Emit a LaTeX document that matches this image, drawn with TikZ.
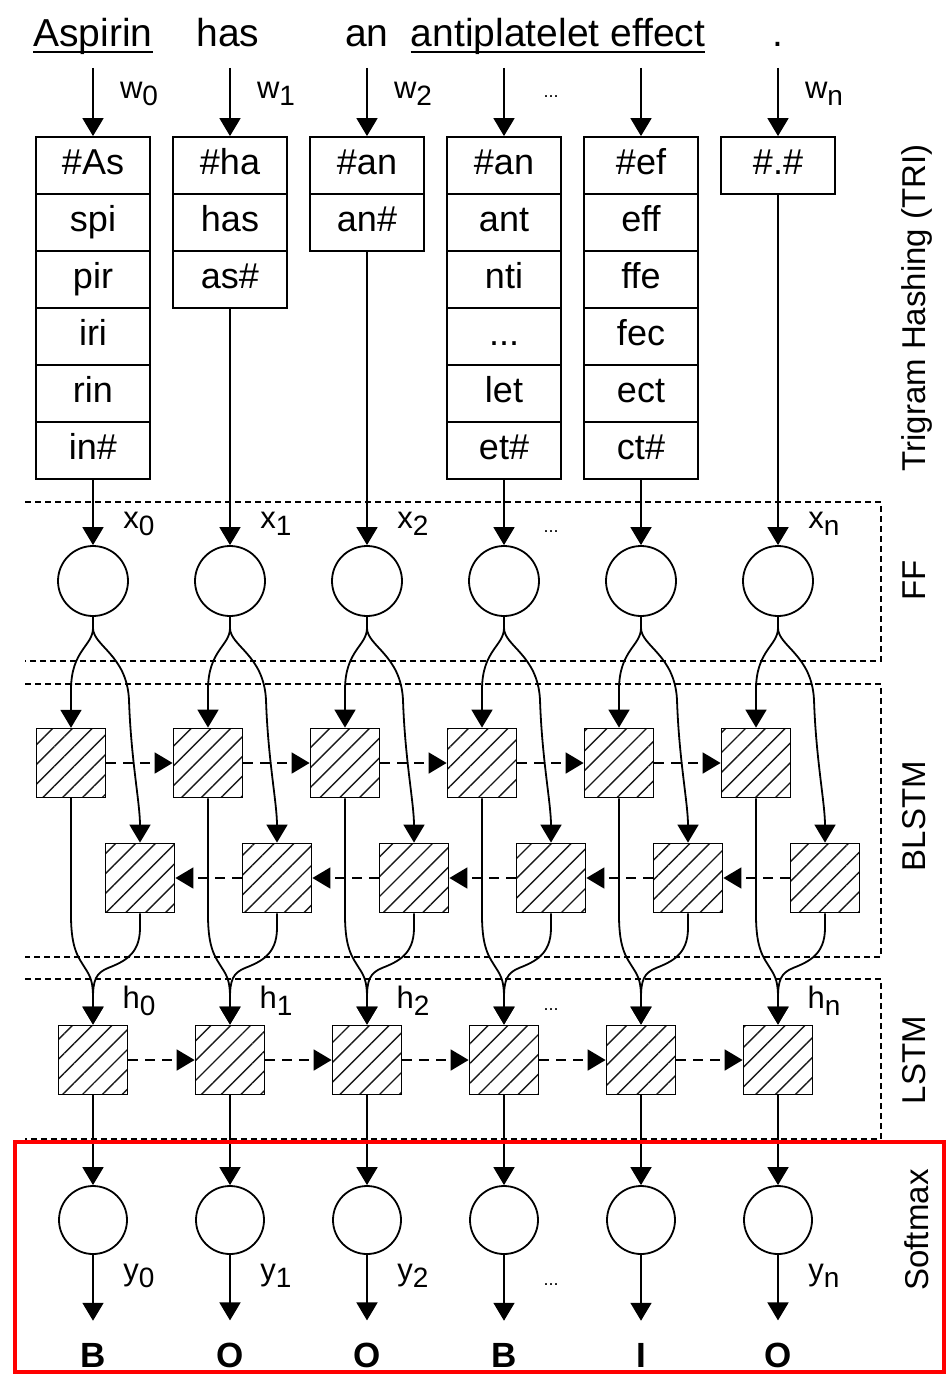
\documentclass[tikz,border=0pt]{standalone}
\usepackage{fontspec}
\setmainfont{Liberation Sans}
\usetikzlibrary{arrows.meta,patterns.meta}
\newcommand\sublab[2]{#1\raisebox{-7pt}{\fontsize{28}{28}\selectfont #2}}
\newcommand\threedots{...}
\begin{document}
\begin{tikzpicture}[x=1pt,y=-1pt,
  arr/.style={line width=1.8pt,-{Triangle[length=18pt,width=21pt]}},
  dasharr/.style={arr,dash pattern=on 10pt off 7pt},
  cell/.style={draw,line width=1.8pt,minimum width=114pt,minimum height=57pt,inner sep=0pt,
    font=\fontsize{36}{40}\selectfont,text height=25pt,text depth=7pt},
  neuron/.style={draw,circle,line width=1.8pt,minimum size=70pt,inner sep=0pt},
  cellbox/.style={draw,line width=1.8pt,minimum size=69pt,inner sep=0pt,
    pattern={Lines[angle=45,distance=14pt,line width=1.4pt]},pattern color=black!90},
  layer/.style={line width=1.3pt,dash pattern=on 6pt off 4pt},
  word/.style={font=\fontsize{39}{42}\selectfont,anchor=base,inner sep=0pt},
  lab/.style={font=\fontsize{31}{32}\selectfont,inner sep=0pt},
  dots/.style={font=\fontsize{18}{20}\selectfont,inner sep=0pt},
  side/.style={font=\fontsize{33}{36}\selectfont,rotate=90,inner sep=0pt},
  outlbl/.style={font=\bfseries\fontsize{35}{38}\selectfont,inner xsep=0pt,inner ysep=22pt}
]
\useasboundingbox (0,0) rectangle (948,1375);

% layer boxes
\draw[layer] (25,502) -- (881,502) -- (881,661) -- (25,661);
\draw[layer] (25,684) -- (881,684) -- (881,957) -- (25,957);
\draw[layer] (25,979) -- (881,979) -- (881,1139) -- (25,1139);

% words
\node[word] (wd0) at (93,47) {Aspirin};
\node[word] (wd1) at (228,47) {has};
\node[word] (wd2) at (367,47) {an};
\node[word] (wd3) at (558,47) {antiplatelet effect};
\node[word] (wd5) at (778,47) {.};
\draw[line width=2.2pt] ([yshift=-5pt]wd0.base west) -- ([yshift=-5pt]wd0.base east);
\draw[line width=2.2pt] ([yshift=-5pt]wd3.base west) -- ([yshift=-5pt]wd3.base east);

% trigram cells
\foreach \t [count=\k] in {\#As,spi,pir,iri,rin,in\#}
  \node[cell] (t0-\k) at (93,{137+57*(\k-0.5)}) {\t};
\foreach \t [count=\k] in {\#ha,has,as\#}
  \node[cell] (t1-\k) at (230,{137+57*(\k-0.5)}) {\t};
\foreach \t [count=\k] in {\#an,an\#}
  \node[cell] (t2-\k) at (367,{137+57*(\k-0.5)}) {\t};
\foreach \t [count=\k] in {\#an,ant,nti,\threedots,let,et\#}
  \node[cell] (t3-\k) at (504,{137+57*(\k-0.5)}) {\t};
\foreach \t [count=\k] in {\#ef,eff,ffe,fec,ect,ct\#}
  \node[cell] (t4-\k) at (641,{137+57*(\k-0.5)}) {\t};
\foreach \t [count=\k] in {\#.\#}
  \node[cell] (t5-\k) at (778,{137+57*(\k-0.5)}) {\t};

% network nodes
\foreach \i/\cx in {0/93,1/230,2/367,3/504,4/641,5/778} {
  \node[neuron] (f\i) at (\cx,581) {};
  \node[cellbox] (u\i) at ({\cx-22},763) {};
  \node[cellbox] (l\i) at ({\cx+47},878) {};
  \node[cellbox] (m\i) at (\cx,1060) {};
  \node[neuron,minimum size=68pt] (s\i) at (\cx,1220) {};
  \coordinate (a\i) at (\cx,68);
  \draw[arr] (a\i) -- (t\i-1.north);
}

% output labels
\node[outlbl] (o0) at (93,1355) {B};
\node[outlbl] (o1) at (230,1355) {O};
\node[outlbl] (o2) at (367,1355) {O};
\node[outlbl] (o3) at (504,1355) {B};
\node[outlbl] (o4) at (641,1355) {I};
\node[outlbl] (o5) at (778,1355) {O};

% trigram -> FF
\draw[arr] (t0-6.south) -- (f0.north);
\draw[arr] (t1-3.south) -- (f1.north);
\draw[arr] (t2-2.south) -- (f2.north);
\draw[arr] (t3-6.south) -- (f3.north);
\draw[arr] (t4-6.south) -- (f4.north);
\draw[arr] (t5-1.south) -- (f5.north);

% horizontal recurrent arrows
\foreach \i [evaluate=\i as \j using int(\i+1)] in {0,...,4} {
  \draw[dasharr] (u\i.east) -- (u\j.west);
  \draw[dasharr] (l\j.west) -- (l\i.east);
  \draw[dasharr] (m\i.east) -- (m\j.west);
}

% vertical connections
\foreach \i/\cx in {0/93,1/230,2/367,3/504,4/641,5/778} {
  % FF -> BLSTM (split)
  \draw[arr] (f\i.south) -- (\cx,628) .. controls (\cx,646) and ({\cx-22},650) .. ({\cx-22},690) -- (u\i.north);
  \draw[arr] (f\i.south) -- (\cx,628) .. controls (\cx,646) and ({\cx+34},655) .. ({\cx+36},700)
     .. controls ({\cx+38},760) and ({\cx+47},803) .. (l\i.north);
  % BLSTM -> LSTM (merge)
  \draw[arr] (u\i.south) -- ({\cx-22},915) .. controls ({\cx-22},950) and ({\cx-14},958) .. ({\cx-8},968)
     .. controls ({\cx-2},977) and (\cx,983) .. (\cx,998) -- (m\i.north);
  \draw[arr] (l\i.south) -- ({\cx+47},928) .. controls ({\cx+47},955) and ({\cx+30},962) .. ({\cx+15},968)
     .. controls ({\cx+3},973) and (\cx,980) .. (\cx,998) -- (m\i.north);
  % LSTM -> softmax -> output
  \draw[arr] (m\i.south) -- (s\i.north);
  \draw[arr] (s\i.south) -- (o\i.north);
}

% column labels
\node[lab] (lw0) at (139,94) {\sublab{w}{0}};
\node[lab] (lw1) at (276,94) {\sublab{w}{1}};
\node[lab] (lw2) at (413,94) {\sublab{w}{2}};
\node[dots] (dw) at (551,97) {\threedots};
\node[lab] (lw5) at (824,94) {\sublab{w}{n}};

\node[lab] (lx0) at (139,524) {\sublab{x}{0}};
\node[lab] (lx1) at (276,524) {\sublab{x}{1}};
\node[lab] (lx2) at (413,524) {\sublab{x}{2}};
\node[dots] (dx) at (551,532) {\threedots};
\node[lab] (lx5) at (824,524) {\sublab{x}{n}};

\node[lab] (lh0) at (139,1001) {\sublab{h}{0}};
\node[lab] (lh1) at (276,1001) {\sublab{h}{1}};
\node[lab] (lh2) at (413,1001) {\sublab{h}{2}};
\node[dots] (dh) at (551,1010) {\threedots};
\node[lab] (lh5) at (824,1001) {\sublab{h}{n}};

\node[lab] (ly0) at (139,1276) {\sublab{y}{0}};
\node[lab] (ly1) at (276,1276) {\sublab{y}{1}};
\node[lab] (ly2) at (413,1276) {\sublab{y}{2}};
\node[dots] (dy) at (551,1285) {\threedots};
\node[lab] (ly5) at (824,1276) {\sublab{y}{n}};

% side labels
\node[side] (tri) at (917,308) {Trigram Hashing (TRI)};
\node[side] (ffl) at (914,580) {FF};
\node[side] (bll) at (914,816) {BLSTM};
\node[side] (lsl) at (914,1060) {LSTM};
\node[side] (sml) at (917,1230) {Softmax};

% highlight
\draw[red,line width=4pt] (15,1142) rectangle (944,1372);
\end{tikzpicture}
\end{document}
